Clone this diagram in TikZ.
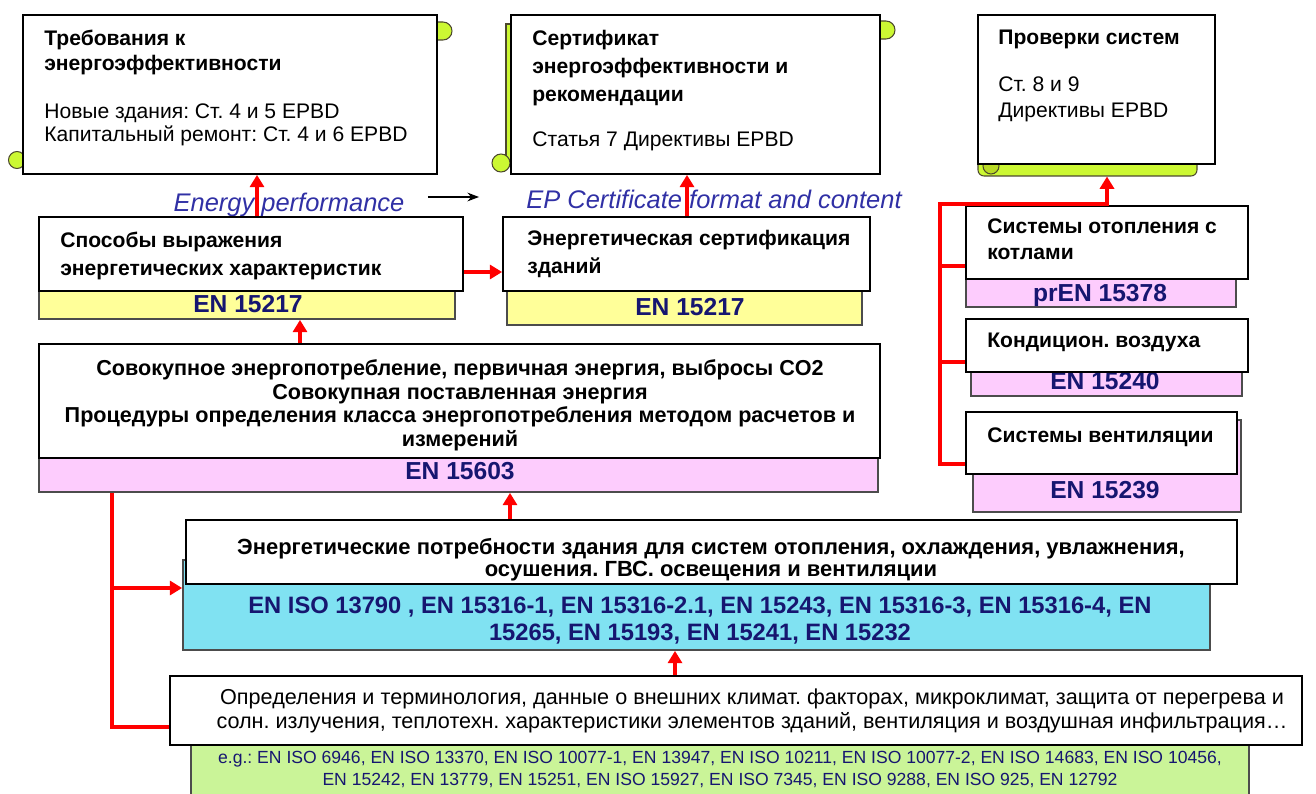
\documentclass[tikz,border=0pt]{standalone}
\usepackage{fontspec}
\setmainfont{Liberation Sans}
\frenchspacing
\usetikzlibrary{arrows.meta,calc,positioning,fit}

\definecolor{stdyellow}{RGB}{255,255,153}
\definecolor{stdpink}{RGB}{253,204,253}
\definecolor{stdcyan}{RGB}{128,226,242}
\definecolor{stdgreen}{RGB}{202,244,152}
\definecolor{scrolllime}{RGB}{204,248,51}
\definecolor{stdnavy}{RGB}{22,22,112}
\definecolor{eplabel}{RGB}{48,48,165}

\tikzset{
  wbox/.style={draw=black, fill=white, line width=1pt, inner sep=0pt},
  stdbox/.style={draw=gray!60!black, line width=1pt, inner sep=0pt},
  ttl/.style={font=\bfseries\fontsize{12}{14}\selectfont, align=left, inner sep=0pt, anchor=north west},
  txt/.style={font=\fontsize{12}{13.6}\selectfont, align=left, inner sep=0pt, anchor=north west},
  ctxt/.style={font=\bfseries\fontsize{12.3}{13.6}\selectfont, align=center, inner sep=0pt, anchor=north},
  stdtxt/.style={font=\bfseries\fontsize{14}{16}\selectfont, text=stdnavy, inner sep=0pt},
  redarr/.style={draw=red, line width=1.8pt, -{Triangle[width=8pt,length=7pt]}},
  redline/.style={draw=red, line width=1.8pt},
  limepart/.style={fill=scrolllime, draw=black!60!olive, line width=0.6pt}
}

\begin{document}
\begin{tikzpicture}[x=0.02cm, y=-0.02cm, >=Stealth]
  \useasboundingbox (0,0) rectangle (1316,794);

  % Scroll parts behind the EPBD boxes
  \draw[limepart] (437,22) -- (443,22) arc[start angle=90, end angle=-90, radius=0.18cm] -- (437,40) -- cycle;
  \draw[limepart] (17,160) circle[radius=0.17cm];
  \draw[limepart] (880,21) -- (886,21) arc[start angle=90, end angle=-90, radius=0.18cm] -- (880,39) -- cycle;
  \draw[limepart] (506,24) rectangle (515,160);
  \draw[limepart] (501,163) circle[radius=0.18cm];
  \node[limepart, rounded corners=0.12cm, inner sep=0pt, fit={(978,156) (1197,176)}] (inspbar) {};
  \draw[limepart, fill=scrolllime!75!olive] (991,166) circle[radius=0.16cm];

  % EPBD boxes
  \node[wbox, fit={(23,15) (437,174)}] (req) {};
  \node[ttl] (reqttl) at (44,30) {Требования к\\энергоэффективности};
  \node[txt] (reqtxt) at (44,103) {Новые здания: Ст. 4 и 5 EPBD\\Капитальный ремонт: Ст. 4 и 6 EPBD};

  \node[wbox, fit={(511,15) (880,174)}] (cert) {};
  \node[ttl, font=\bfseries\fontsize{12}{16}\selectfont] (certttl) at (532,30) {Сертификат\\энергоэффективности и\\рекомендации};
  \node[txt] (certtxt) at (532,131) {Статья 7 Директивы EPBD};

  \node[wbox, fit={(978,15) (1215,164)}] (insp) {};
  \node[ttl] (inspttl) at (998,30) {Проверки систем};
  \node[txt, font=\fontsize{12}{15.3}\selectfont] (insptxt) at (998,76) {Ст. 8 и 9\\Директивы EPBD};

  % Labels between the rows
  \node[font=\itshape\fontsize{14.5}{16}\selectfont, text=eplabel, inner sep=0pt] (ep) at (289,205) {Energy performance};
  \node[font=\itshape\fontsize{14.5}{16}\selectfont, text=eplabel, inner sep=0pt] (epc) at (714,199) {EP Certificate format and content};
  \draw[->, line width=0.8pt] ([xshift=0.46cm]ep.east |- 0,197) -- ([xshift=-0.94cm]epc.west |- 0,197);

  % EN 15217 boxes
  \node[stdbox, fill=stdyellow, fit={(39,280) (455,319)}] (sposobY) {};
  \node[stdtxt] at (248,304) {EN 15217};
  \node[wbox, fit={(39,217) (463,291)}] (sposob) {};
  \node[ttl, font=\bfseries\fontsize{12}{16}\selectfont] (sposobttl) at (60,232) {Способы выражения\\энергетических характеристик};

  \node[stdbox, fill=stdyellow, fit={(507,282) (862,325)}] (sertY) {};
  \node[stdtxt] at (690,307) {EN 15217};
  \node[wbox, fit={(503,217) (870,291)}] (sert) {};
  \node[ttl, font=\bfseries\fontsize{12}{16}\selectfont] (sertttl) at (527,230) {Энергетическая сертификация\\зданий};

  % System boxes
  \node[stdbox, fill=stdpink, fit={(966,275) (1236,307)}] (heatP) {};
  \node[stdtxt] at (1100,295) {prEN 15378};
  \node[wbox, fit={(966,206) (1248,279)}] (heat) {};
  \node[ttl, font=\bfseries\fontsize{12}{15.3}\selectfont] (heatttl) at (987,218) {Системы отопления с\\котлами};

  \node[stdbox, fill=stdpink, fit={(971,330) (1242,396)}] (acP) {};
  \node[stdtxt] at (1105,381) {EN 15240};
  \node[wbox, fit={(966,319) (1248,372)}] (ac) {};
  \node[ttl] (acttl) at (987,333) {Кондицион. воздуха};

  \node[stdbox, fill=stdpink, fit={(973,420) (1241,512)}] (ventP) {};
  \node[stdtxt] at (1105,490) {EN 15239};
  \node[wbox, fit={(966,412) (1237,474)}] (vent) {};
  \node[ttl] (ventttl) at (987,427) {Системы вентиляции};

  % EN 15603
  \node[stdbox, fill=stdpink, fit={(39,440) (878,492)}] (totP) {};
  \node[stdtxt] at (460,471) {EN 15603};
  \node[wbox, fit={(39,344) (880,458)}] (tot) {};
  \node[ctxt] (tottxt) at (460,359) {Совокупное энергопотребление, первичная энергия, выбросы CO2\\Совокупная поставленная энергия\\Процедуры определения класса энергопотребления методом расчетов и\\измерений};

  % Energy needs
  \node[stdbox, fill=stdcyan, fit={(183,560) (1210,650)}] (needC) {};
  \node[stdtxt, font=\bfseries\fontsize{13.5}{15}\selectfont, align=center, anchor=north] at (700,597) {EN ISO 13790 , EN 15316-1, EN 15316-2.1, EN 15243, EN 15316-3, EN 15316-4, EN\\15265, EN 15193, EN 15241, EN 15232};
  \node[wbox, fit={(186,520) (1237,584)}] (need) {};
  \node[ctxt, font=\bfseries\fontsize{12.5}{12.8}\selectfont] (needtxt) at (711,538) {Энергетические потребности здания для систем отопления, охлаждения, увлажнения,\\осушения. ГВС. освещения и вентиляции};

  % Basic data
  \node[stdbox, fill=stdgreen, fit={(191,730) (1249,800)}] (baseG) {};
  \node[font=\fontsize{10}{12.5}\selectfont, text=stdnavy, align=center, inner sep=0pt, anchor=north] at (720,751) {e.g.: EN ISO 6946, EN ISO 13370, EN ISO 10077-1, EN 13947, EN ISO 10211, EN ISO 10077-2, EN ISO 14683, EN ISO 10456,\\EN 15242, EN 13779, EN 15251, EN ISO 15927, EN ISO 7345, EN ISO 9288, EN ISO 925, EN 12792};
  \node[wbox, fit={(170,676) (1302,745)}] (base) {};
  \node[ctxt, font=\fontsize{12.3}{14}\selectfont] (basetxt) at (752,688) {Определения и терминология, данные о внешних климат. факторах, микроклимат, защита от перегрева и\\солн. излучения, теплотехн. характеристики элементов зданий, вентиляция и воздушная инфильтрация…};

  % Red connectors
  \coordinate (ax1) at (257,0);
  \coordinate (ax2) at (687,0);
  \coordinate (ax3) at (300,0);
  \coordinate (ax4) at (510,0);
  \coordinate (ax5) at (675,0);
  \coordinate (ay1) at (0,272);
  \draw[redarr] (sposob.north -| ax1) -- (req.south -| ax1);
  \draw[redarr] (sert.north -| ax2) -- (cert.south -| ax2);
  \draw[redarr] (sposob.east |- ay1) -- (sert.west |- ay1);
  \draw[redarr] (tot.north -| ax3) -- (sposobY.south -| ax3);
  \draw[redarr] (need.north -| ax4) -- (totP.south -| ax4);
  \draw[redarr] (base.north -| ax5) -- (needC.south -| ax5);

  \coordinate (lx) at (112,0);
  \coordinate (ly1) at (0,588);
  \coordinate (ly2) at (0,727);
  \draw[redline] (totP.south -| lx) -- (lx |- ly2) -- (base.west |- ly2);
  \draw[redarr] (lx |- ly1) -- (needC.west |- ly1);

  \coordinate (rx) at (940,0);
  \coordinate (ry0) at (0,204);
  \coordinate (ix) at (1107,0);
  \coordinate (hy) at (0,266);
  \coordinate (cy) at (0,362);
  \coordinate (vy) at (0,464);
  \draw[redarr] (vent.west |- vy) -| (rx |- ry0) -| (inspbar.south -| ix);
  \draw[redline] (rx |- hy) -- (heat.west |- hy);
  \draw[redline] (rx |- cy) -- (ac.west |- cy);
\end{tikzpicture}
\end{document}
